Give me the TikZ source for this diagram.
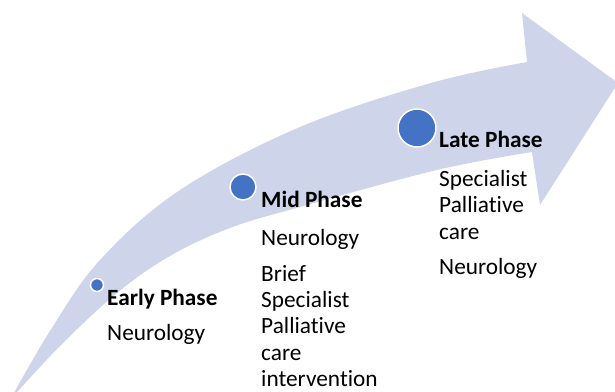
\documentclass[tikz,border=0pt]{standalone}
\usepackage{fontspec}
\setmainfont{Carlito}[Ligatures=NoCommon]
\definecolor{band}{RGB}{206,212,234}
\definecolor{dotblue}{RGB}{68,114,196}
\begin{document}
\begin{tikzpicture}[x=1pt,y=1pt,
  phasedot/.style={circle,fill=dotblue,draw=white,line width=1.5pt,inner sep=0pt},
  lbl/.style={anchor=base west,inner sep=0pt,font=\fontsize{23.3}{26.5}\selectfont},
  ttl/.style={lbl,font=\fontsize{23.3}{26.5}\selectfont\bfseries}]
\useasboundingbox (0,0) rectangle (615,391);
\begin{scope}
\clip (0,0) rectangle (615,391);
\fill[band] plot[smooth,tension=0.6] coordinates {(10,-9) (50,60) (100,131) (180,201) (300,264) (431,308) (527,329)}
  -- (522,378) -- (618,308) -- (540,186) -- (532,239)
  -- plot[smooth,tension=0.6] coordinates {(532,239) (437,221) (300,184) (230,163) (170,135) (117,98) (60,45) (10,-9)} -- cycle;
\end{scope}
\node[phasedot,minimum size=13pt] (d1) at (97,106) {};
\node[phasedot,minimum size=26pt] (d2) at (243,204) {};
\node[phasedot,minimum size=38pt] (d3) at (417,263) {};
% Early
\node[ttl] (e0) at (107,86) {Early Phase};
\node[lbl] (e1) at (107,51) {Neurology};
% Mid
\node[ttl] (m0) at (261,183) {Mid Phase};
\node[lbl] (m1) at (261,146) {Neurology};
\node[lbl] (m2) at (261,110) {Brief};
\node[lbl] (m3) at (261,84) {Specialist};
\node[lbl] (m4) at (261,58) {Palliative};
\node[lbl] (m5) at (261,31) {care};
\node[lbl] (m6) at (261,5) {intervention};
% Late
\node[ttl] (l0) at (439,243) {Late Phase};
\node[lbl] (l1) at (439,204) {Specialist};
\node[lbl] (l2) at (439,178) {Palliative};
\node[lbl] (l3) at (439,151) {care};
\node[lbl] (l4) at (439,117) {Neurology};
\end{tikzpicture}
\end{document}
